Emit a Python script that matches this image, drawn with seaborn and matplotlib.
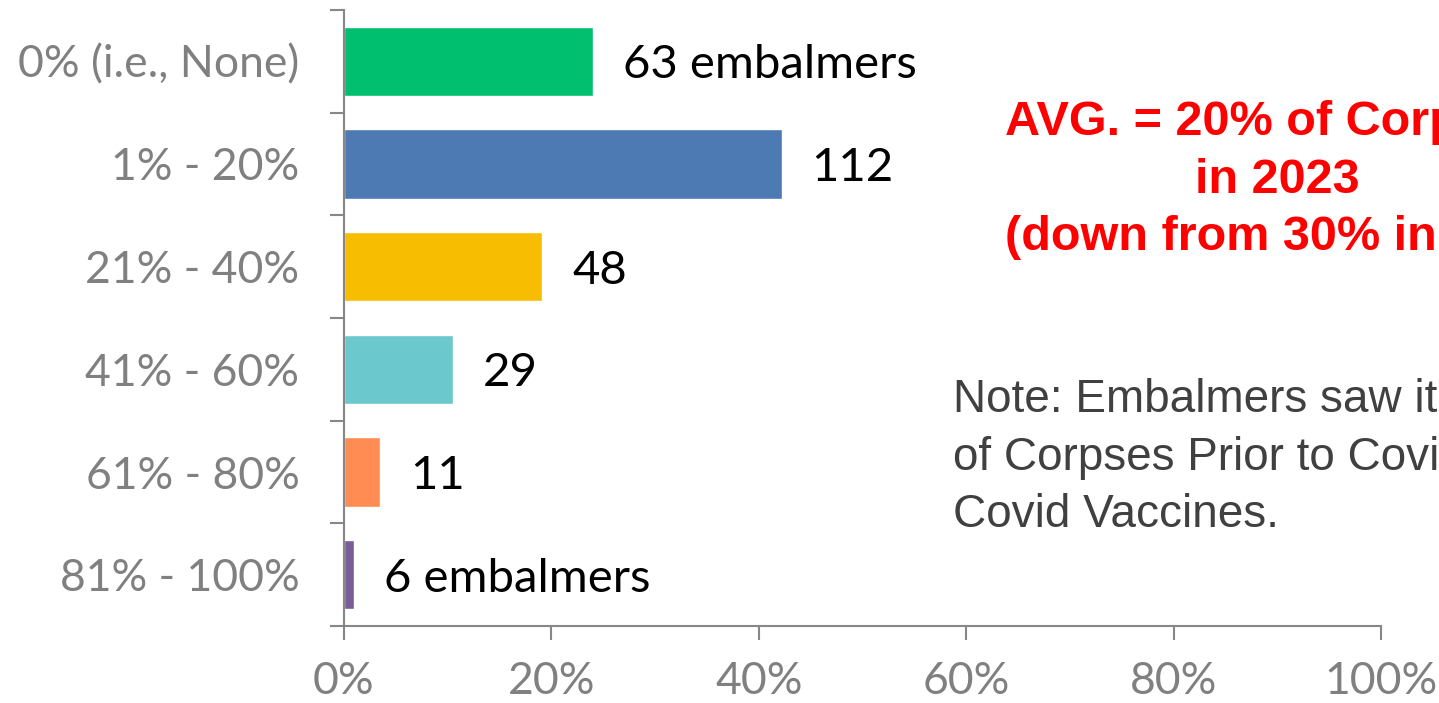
import matplotlib
matplotlib.use("Agg")
import matplotlib.pyplot as plt
import pandas as pd
import seaborn as sns
from matplotlib.ticker import FixedLocator, PercentFormatter

# ── Data ──────────────────────────────────────────────────────────────────────
categories = ["0% (i.e., None)", "1% - 20%", "21% - 40%", "41% - 60%", "61% - 80%", "81% - 100%"]
share_pct = [24.0, 42.2, 19.1, 10.5, 3.5, 1.0]
bar_labels = ["63 embalmers", "112", "48", "29", "11", "6 embalmers"]
bar_colors = ["#00BF6F", "#4E7AB3", "#F7BD00", "#6BC8CD", "#FF8C52", "#7A5C97"]

avg_lines = ["AVG. = 20% of Corpses", "in 2023", "(down from 30% in 2022)"]
note_lines = ["Note: Embalmers saw it in <5%", "of Corpses Prior to Covid and", "Covid Vaccines."]

df = pd.DataFrame({"category": categories, "share": share_pct})

# ── Style ─────────────────────────────────────────────────────────────────────
sns.set_style("white")
plt.rcParams["font.family"] = ["Lato", "DejaVu Sans"]

AXIS_GREY = "#878787"
TICK_GREY = "#808080"

fig = plt.figure(figsize=(14.39, 7.03), dpi=100)
ax = fig.add_axes([0.2390, 0.1095, 0.7207, 0.8763])

sns.barplot(
    data=df, x="share", y="category", hue="category", palette=bar_colors,
    orient="h", width=0.675, legend=False, saturation=1, ax=ax,
)

# value labels to the right of each bar
for i, (val, lab) in enumerate(zip(share_pct, bar_labels)):
    ax.annotate(lab, xy=(val, i), xytext=(30, 0), textcoords="offset pixels",
                ha="left", va="center_baseline", fontsize=34, color="black")

# axes
ax.set_xlim(0, 100)
ax.set_ylim(len(categories) - 0.5, -0.5)
ax.xaxis.set_major_locator(FixedLocator([0, 20, 40, 60, 80, 100]))
ax.xaxis.set_major_formatter(PercentFormatter(decimals=0))
ax.yaxis.set_minor_locator(FixedLocator([i - 0.5 for i in range(len(categories) + 1)]))
ax.set_xlabel("")
ax.set_ylabel("")

ax.tick_params(axis="x", which="major", direction="out", length=10, width=1.5,
               bottom=True, color=AXIS_GREY, labelcolor=TICK_GREY,
               labelsize=32, pad=15)
ax.tick_params(axis="y", which="major", length=0, labelcolor=TICK_GREY,
               labelsize=32, pad=32)
ax.tick_params(axis="y", which="minor", direction="out", length=10, width=1.5,
               color=AXIS_GREY, left=True)

for side in ("top", "right"):
    ax.spines[side].set_visible(False)
for side in ("left", "bottom"):
    ax.spines[side].set_color(AXIS_GREY)
    ax.spines[side].set_linewidth(1.5)

# red average callout
red_kw = dict(color="#FF0000", fontsize=35, fontweight="bold",
              family="Liberation Sans", va="baseline")
fig.text(1005 / 1439, 1 - 135 / 703, avg_lines[0], ha="left", **red_kw)
fig.text(1277 / 1439, 1 - 193 / 703, avg_lines[1], ha="center", **red_kw)
fig.text(1005 / 1439, 1 - 250 / 703, avg_lines[2], ha="left", **red_kw)

# note
for text, base in zip(note_lines, [412, 470, 527]):
    fig.text(953 / 1439, 1 - base / 703, text, ha="left", va="baseline",
             color="#404040", fontsize=33, family="Liberation Sans")

fig.savefig("out.png", dpi=100)
